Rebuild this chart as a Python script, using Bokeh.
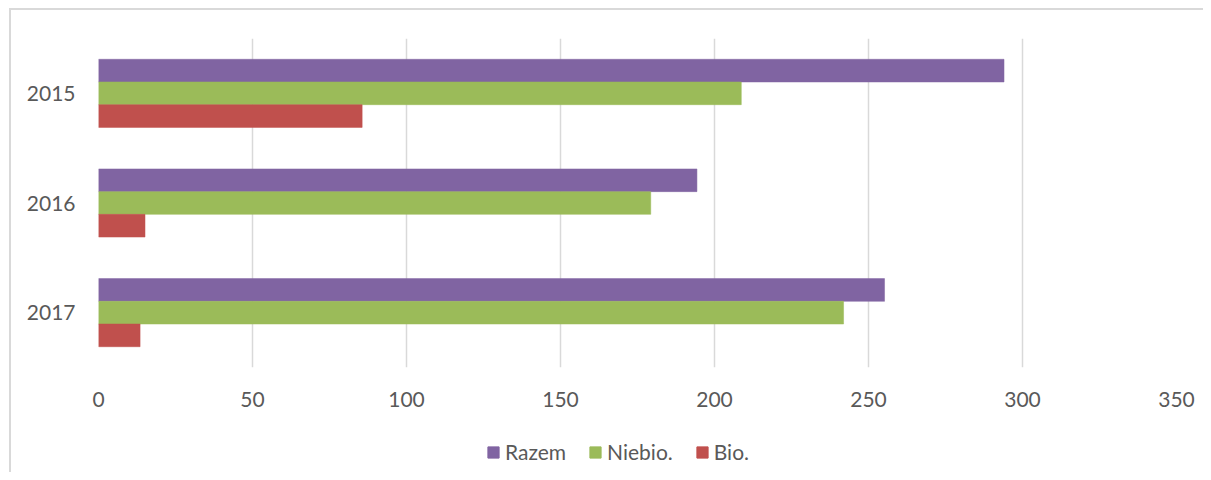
from bokeh.plotting import figure
from bokeh.layouts import column
from bokeh.models import FactorRange, ColumnDataSource, Legend, LegendItem, FixedTicker, Range1d
from bokeh.transform import dodge
from bokeh.embed import file_html
from bokeh.resources import INLINE

years = ["2015", "2016", "2017"]
razem = [294.0, 194.3, 255.2]
niebio = [208.7, 179.3, 241.9]
bio = [85.6, 15.1, 13.5]
series_names = ["Razem", "Niebio.", "Bio."]
colors = ["#8064A2", "#9BBB59", "#C0504D"]
x_ticks = [0, 50, 100, 150, 200, 250, 300, 350]

src = ColumnDataSource(dict(year=years, razem=razem, niebio=niebio, bio=bio))

W = 1203
p = figure(width=W, height=420,
           y_range=FactorRange(factors=years[::-1]),
           x_range=(0, 350),
           output_backend="svg", toolbar_location=None,
           min_border_left=98, min_border_right=27,
           min_border_top=38, min_border_bottom=53)

p.outline_line_color = None
p.border_fill_color = None

bh = 0.207
fields = ["razem", "niebio", "bio"]
offsets = [bh, 0.0, -bh]
for f, off, c in zip(fields, offsets, colors):
    p.hbar(y=dodge("year", off, range=p.y_range), left=0, right=f,
           height=bh, source=src, fill_color=c, line_color=c, line_width=0.5)

p.xaxis.ticker = FixedTicker(ticks=x_ticks)
for ax in (p.xaxis, p.yaxis):
    ax.axis_line_color = None
    ax.major_tick_line_color = None
    ax.minor_tick_line_color = None
    ax.major_label_text_font = "Lato"
    ax.major_label_text_font_size = "21px"
    ax.major_label_text_color = "#595959"
p.xaxis.major_label_standoff = 18
p.yaxis.major_label_standoff = 17

p.xgrid.grid_line_color = "#d9d9d9"
p.xgrid.grid_line_width = 1.5
p.ygrid.grid_line_color = None

# legend strip below the chart (its glyph renderers hold one point outside the visible range)
q = figure(width=W, height=52, x_range=Range1d(0, 1), y_range=Range1d(0, 1),
           output_backend="svg", toolbar_location=None,
           min_border_left=0, min_border_right=0, min_border_top=0, min_border_bottom=0)
q.axis.visible = False
q.grid.visible = False
q.outline_line_color = None
q.border_fill_color = None
q.background_fill_color = None
legend_renderers = [q.hbar(y=[-5], left=[-5], right=[-4], height=0.5, fill_color=c, line_color=c)
                    for c in colors]

legend = Legend(items=[LegendItem(label=n, renderers=[r]) for n, r in zip(series_names, legend_renderers)],
                orientation="horizontal", location=(388, 8),
                glyph_width=14, glyph_height=14, label_standoff=5, spacing=22,
                padding=0, margin=0, border_line_color=None, background_fill_alpha=0,
                label_text_font="Lato", label_text_font_size="21px",
                label_text_color="#595959")
q.add_layout(legend)

layout = column(p, q, spacing=0)
layout.styles = {"box-shadow": "inset 9px 8px 0 0 #ffffff, inset 11px 10px 0 0 #d9d9d9",
                 "background-color": "#ffffff"}

open("out.html", "w").write(file_html(layout, INLINE))
